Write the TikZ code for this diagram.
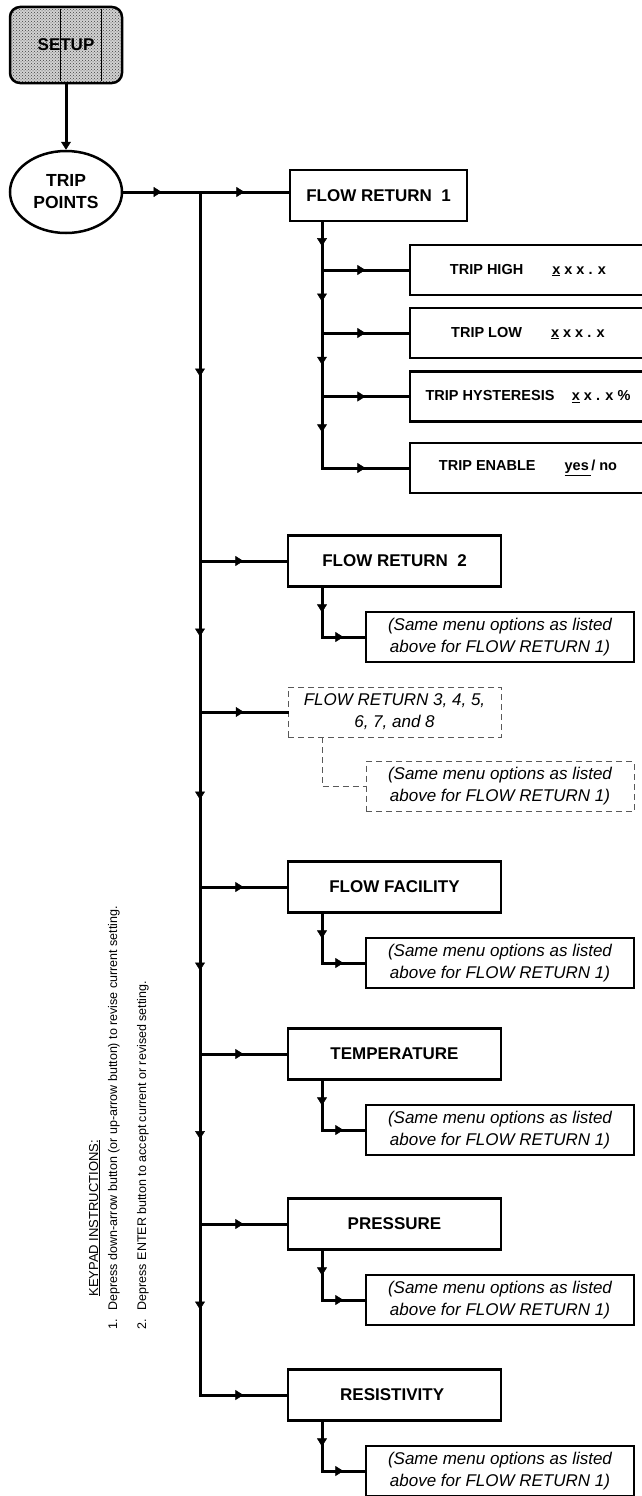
\documentclass[tikz,border=0pt]{standalone}
\usepackage{fontspec}
\setmainfont{Liberation Sans}
\usetikzlibrary{arrows.meta,shapes.geometric,decorations.markings,patterns}

\begin{document}
\begin{tikzpicture}[
    x=1pt, y=-1pt,
    font=\fontsize{17}{20}\selectfont\bfseries,
    >={Triangle[width=10pt,length=8pt,line width=0.5pt]},
    setupbox/.style={
        rectangle, rounded corners=10pt, draw=black, line width=2.5pt,
        preaction={fill=gray!35}, pattern=crosshatch dots, pattern color=black!75,
        minimum width=112pt, minimum height=76pt
    },
    tripell/.style={
        ellipse, draw=black, line width=2.5pt, align=center, inner sep=0pt,
        minimum width=112pt, minimum height=82pt,
        font=\fontsize{17.5}{22}\selectfont\bfseries
    },
    menubox/.style={
        rectangle, draw=black, line width=2.5pt, align=center,
        minimum width=213pt, minimum height=51pt, inner sep=2pt
    },
    itembox/.style={
        rectangle, draw=black, line width=2.5pt,
        minimum width=236pt, minimum height=50pt,
        font=\fontsize{14.5}{17}\selectfont\bfseries
    },
    samebox/.style={
        rectangle, draw=black, line width=2.5pt, align=center,
        minimum width=268pt, minimum height=50pt, inner sep=2pt,
        font=\fontsize{17}{22}\selectfont\itshape
    },
    ghostbox/.style={
        samebox, draw=black!65, line width=0.8pt, dash pattern=on 6pt off 4pt
    },
    link/.style={line width=3pt, line cap=rect},
    ghostlink/.style={draw=black!65, line width=0.8pt, dash pattern=on 6pt off 4pt},
    midarrow/.style={
        postaction={decorate},
        decoration={markings, mark=at position 0.5 with {\arrow{>}}}
    },
    note/.style={rotate=90, anchor=base west, font=\fontsize{12.5}{15}\selectfont}
]

\useasboundingbox (0,0) rectangle (641,1496);

% setup and trip points
\node[setupbox] (setup) at (66,45) {SETUP};
\draw[line width=1pt] (60,9) -- (60,81) (101,9) -- (101,81);
\node[tripell] (trip) at (66,192) {TRIP\\POINTS};
\draw[link, ->] (setup) -- (trip);

% flow return 1 and its items
\coordinate (t0) at (200,192);
\coordinate (kx) at (322,0);
\node[menubox, minimum width=177pt] (m0) at (378.5,195.5) {FLOW RETURN\ \ 1};
\draw[link, midarrow] (trip.east) -- (t0);
\draw[link, midarrow] (t0) -- (t0 -| m0.west);
\coordinate (k0) at (m0.south -| kx);

\foreach \j/\y/\txt in {
    1/270/{TRIP HIGH\hspace{2em}\underline{x} x x . x},
    2/333/{TRIP LOW\hspace{2em}\underline{x} x x . x},
    3/396.5/{TRIP HYSTERESIS\hspace{1.2em}\underline{x} x . x \%},
    4/468/{TRIP ENABLE\hspace{2em}\underline{yes\,}/ no}
} {
    \pgfmathtruncatemacro{\prev}{\j-1}
    \coordinate (k\j) at (322,\y);
    \node[itembox] (i\j) at (528,\y) {\txt};
    \draw[link, midarrow] (k\prev) -- (k\j);
    \draw[link, midarrow] (k\j) -- (i\j.west);
}

% other trip points
\foreach \i/\y/\lbl in {
    1/561/FLOW RETURN\ \ 2,
    3/887/FLOW FACILITY,
    4/1054/TEMPERATURE,
    5/1224/PRESSURE,
    6/1395/RESISTIVITY
} {
    \coordinate (t\i) at (200,\y);
    \coordinate (c\i) at (322,\y+76);
    \node[menubox] (m\i) at (394.5,\y) {\lbl};
    \node[samebox] (s\i) at (500,\y+76) {(Same menu options as listed\\above for FLOW RETURN 1)};
    \draw[link, midarrow] (t\i) -- (m\i.west);
    \draw[link, midarrow] (m\i.south -| c\i) -- (c\i);
    \draw[link, midarrow] (c\i) -- (s\i.west);
}

% flow return 3 to 8
\coordinate (t2) at (200,712);
\coordinate (c2) at (322,786.5);
\node[ghostbox, minimum width=213pt] (m2) at (394.5,712) {FLOW RETURN 3, 4, 5,\\6, 7, and 8};
\node[ghostbox] (s2) at (500,786.5) {(Same menu options as listed\\above for FLOW RETURN 1)};
\draw[link, midarrow] (t2) -- (m2.west);
\draw[ghostlink] (m2.south -| c2) -- (c2) -- (s2.west);

% trunk
\foreach \i in {1,...,6} {
    \pgfmathtruncatemacro{\prev}{\i-1}
    \draw[link, midarrow] (t\prev) -- (t\i);
}

% keypad notes
\node[note, font=\fontsize{13}{15}\selectfont] (kp) at (98,1300) {\underline{KEYPAD INSTRUCTIONS:}};
\node[note] (n1) at (117,1333) {1.\hspace{0.7em}Depress down-arrow button (or up-arrow button) to revise current setting.};
\node[note] (n2) at (146,1333) {2.\hspace{0.7em}Depress ENTER button to accept current or revised setting.};

\end{tikzpicture}
\end{document}
